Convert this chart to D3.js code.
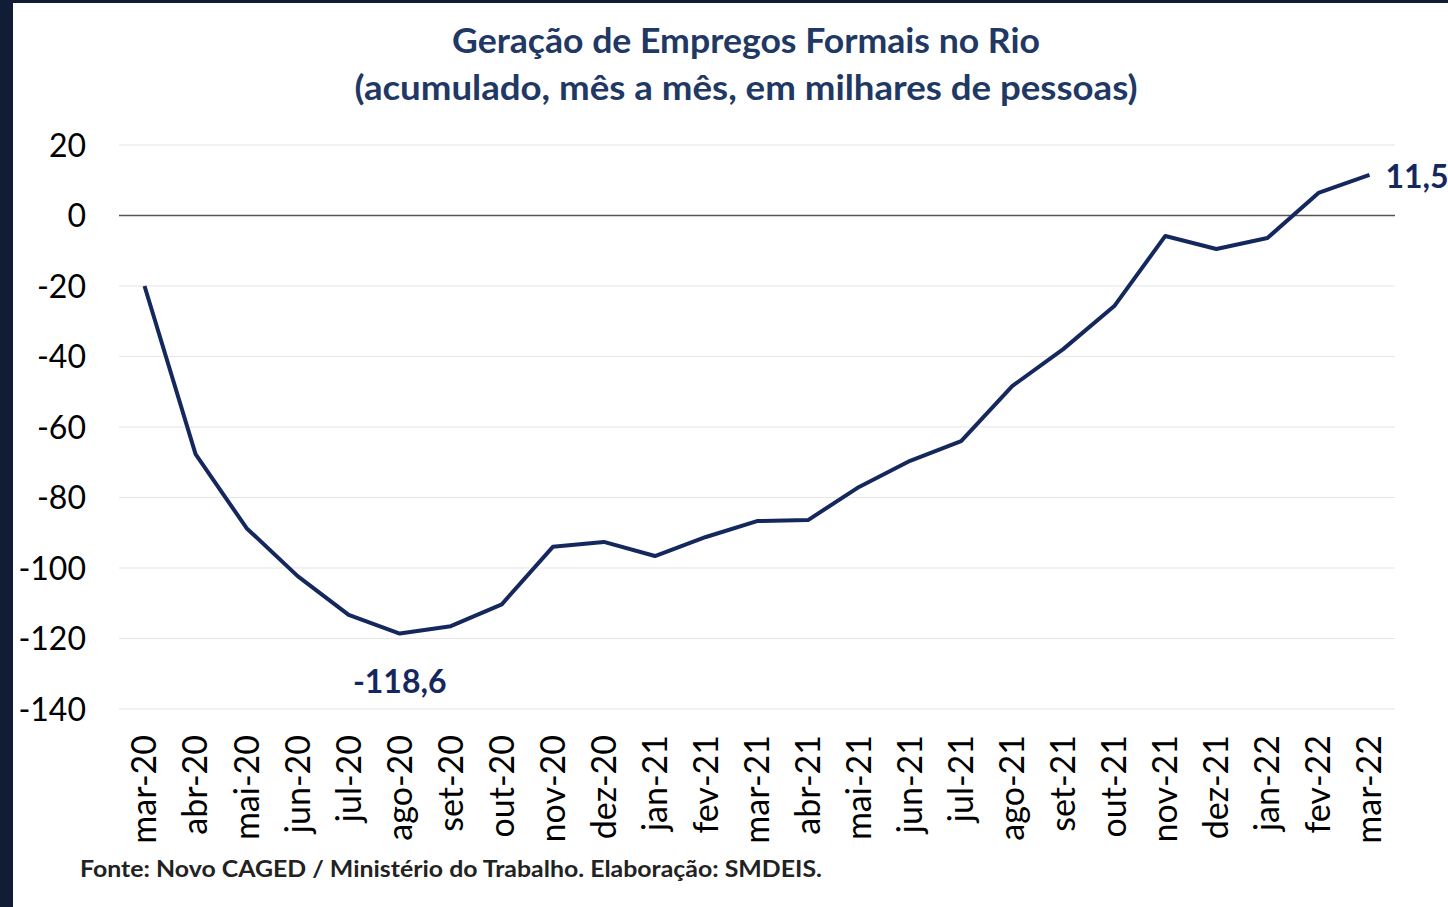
<!DOCTYPE html>
<html><head><meta charset="utf-8">
<script src="https://cdn.jsdelivr.net/npm/d3@7"></script>
<style>
html,body{margin:0;padding:0;background:#fff;}
svg{display:block;}
</style></head>
<body>
<script>
const categories = ["mar-20","abr-20","mai-20","jun-20","jul-20","ago-20","set-20","out-20","nov-20","dez-20","jan-21","fev-21","mar-21","abr-21","mai-21","jun-21","jul-21","ago-21","set-21","out-21","nov-21","dez-21","jan-22","fev-22","mar-22"];
const values = [-20,-67.7,-88.7,-102.3,-113.3,-118.6,-116.5,-110.3,-94,-92.6,-96.6,-91.2,-86.7,-86.4,-77,-69.6,-64,-48.4,-37.9,-25.7,-5.8,-9.5,-6.4,6.4,11.5];
const yTicks = [20,0,-20,-40,-60,-80,-100,-120,-140];
const titleLines = ["Geração de Empregos Formais no Rio","(acumulado, mês a mês, em milhares de pessoas)"];
const footer = "Fonte: Novo CAGED / Ministério do Trabalho. Elaboração: SMDEIS.";

const W = 1448, H = 907;
const svg = d3.select("body").append("svg").attr("width", W).attr("height", H);
svg.append("rect").attr("width", W).attr("height", H).attr("fill", "#111c35");
svg.append("rect").attr("x", 13).attr("y", 3).attr("width", W - 13).attr("height", H - 3).attr("fill", "#fff");

const navy = "#14285e";
const font = "Lato, 'Open Sans', sans-serif";
const fmt = v => d3.format(".1f")(v).replace(".", ",").replace("\u2212", "-");

const x = d3.scaleBand().domain(categories).range([119, 1395]);
const y = d3.scaleLinear().domain([-140, 20]).range([709, 145]);

// title
const titleWidths = [588, 783];
svg.append("g").selectAll("text").data(titleLines).join("text")
  .attr("x", 746).attr("y", (d, i) => 53 + i * 47)
  .attr("text-anchor", "middle").attr("font-family", font).attr("font-weight", "bold")
  .attr("font-size", 35).attr("fill", "#1f3864")
  .attr("textLength", (d, i) => titleWidths[i]).attr("lengthAdjust", "spacingAndGlyphs")
  .text(d => d);

// grid
svg.append("g").selectAll("line").data(yTicks.filter(t => t !== 0)).join("line")
  .attr("x1", 119).attr("x2", 1395).attr("y1", d => y(d)).attr("y2", d => y(d))
  .attr("stroke", "#e6e6e6").attr("stroke-width", 1.2);
svg.append("line").attr("x1", 119).attr("x2", 1395).attr("y1", y(0)).attr("y2", y(0))
  .attr("stroke", "#555").attr("stroke-width", 1.5);

// y axis
const yAxis = d3.axisLeft(y).tickValues(yTicks).tickSize(0).tickPadding(0).tickFormat(d => String(d));
const ya = svg.append("g").attr("transform", "translate(86,0)").call(yAxis);
ya.select(".domain").remove();
ya.selectAll("text").attr("font-family", font).attr("font-size", 32).attr("fill", "#000").attr("dy", "0.35em");

// x axis
const xAxis = d3.axisBottom(x).tickSize(0).tickPadding(0);
const xa = svg.append("g").attr("transform", "translate(0,735)").call(xAxis);
xa.select(".domain").remove();
xa.selectAll("text").attr("font-family", font).attr("font-size", 34).attr("fill", "#000")
  .attr("transform", "rotate(-90)").attr("text-anchor", "end").attr("x", 0).attr("y", 0).attr("dx", 0).attr("dy", "0.35em");

// line
const line = d3.line().x((d, i) => x(categories[i]) + x.bandwidth() / 2).y(d => y(d));
svg.append("path").datum(values).attr("d", line).attr("fill", "none")
  .attr("stroke", navy).attr("stroke-width", 4).attr("stroke-linejoin", "round");

// annotations
const iMin = values.indexOf(d3.min(values));
svg.append("text").attr("x", x(categories[iMin]) + x.bandwidth() / 2).attr("y", 693)
  .attr("text-anchor", "middle").attr("font-family", font).attr("font-weight", "bold")
  .attr("font-size", 32).attr("fill", navy).text(fmt(values[iMin]));
const iLast = values.length - 1;
svg.append("text").attr("x", x(categories[iLast]) + x.bandwidth() / 2 + 16).attr("y", y(values[iLast]) + 13)
  .attr("font-family", font).attr("font-weight", "bold")
  .attr("font-size", 32).attr("fill", navy).text(fmt(values[iLast]));

// footer
svg.append("text").attr("x", 80).attr("y", 877).attr("font-family", font).attr("font-weight", "bold")
  .attr("font-size", 23).attr("fill", "#222")
  .attr("textLength", 742).attr("lengthAdjust", "spacingAndGlyphs").text(footer);
</script>
</body></html>
